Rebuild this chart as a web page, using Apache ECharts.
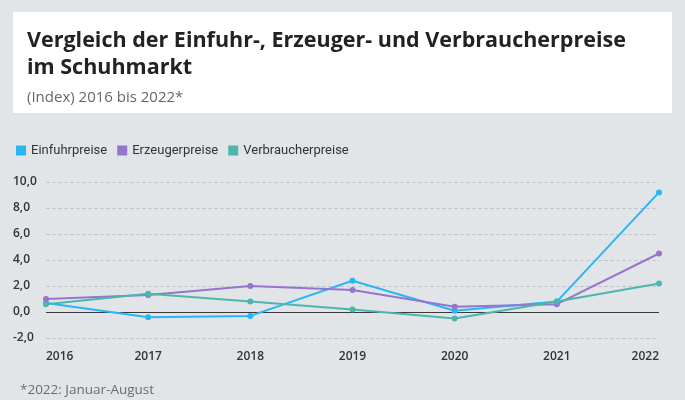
<!DOCTYPE html>
<html><head><meta charset="utf-8">
<script src="https://cdn.jsdelivr.net/npm/echarts@6/dist/echarts.min.js"></script>
<style>html,body{margin:0;padding:0;background:#e2e5e7;}#c{width:685px;height:400px;}</style>
</head><body><div id="c"></div>
<script>
var categories = ['2016','2017','2018','2019','2020','2021','2022'];
var einfuhr = [0.7, -0.4, -0.3, 2.4, 0.1, 0.8, 9.2];
var erzeuger = [1.0, 1.3, 2.0, 1.7, 0.4, 0.6, 4.5];
var verbraucher = [0.6, 1.4, 0.8, 0.2, -0.5, 0.8, 2.2];
var yTicks = [-2, 0, 2, 4, 6, 8, 10];
var names = ['Einfuhrpreise','Erzeugerpreise','Verbraucherpreise'];
var colors = ['#29b6f6','#9575cd','#4db6ac'];

var chart = echarts.init(document.getElementById('c'));
function mk(i, data){
  var s = {name:names[i], type:'line', data:data, symbol:'circle', symbolSize:6,
    lineStyle:{width:2,color:colors[i]}, itemStyle:{color:colors[i]}, z:3};
  if(i===0){ s.markLine={silent:true,symbol:'none',label:{show:false},
    lineStyle:{color:'#3a3a3a',width:1.2,type:'solid'},data:[{yAxis:0}],z:1}; }
  return s;
}
chart.setOption({
  backgroundColor:'#e2e5e7',
  animation:false,
  color:colors,
  graphic:[{type:'rect',shape:{x:13,y:12,width:659,height:101},style:{fill:'#ffffff'},z:-1},
    {type:'text',left:20,top:383,style:{text:'*2022: Januar-August',fill:'#6b6b6b',font:'13.5px "Open Sans"'}}],
  title:{text:'Vergleich der Einfuhr-, Erzeuger- und Verbraucherpreise\nim Schuhmarkt',
    subtext:'(Index) 2016 bis 2022*', left:22, top:22, itemGap:9,
    textStyle:{fontFamily:'Open Sans',fontWeight:'bold',fontSize:21.5,lineHeight:27,color:'#222'},
    subtextStyle:{fontFamily:'Open Sans',fontSize:15,color:'#666'}},
  legend:{left:11,top:139,itemWidth:10,itemHeight:10,itemGap:10,icon:'rect',
    textStyle:{fontFamily:'Roboto',fontSize:13,color:'#333'},
    data:names.map(function(n){return {name:n,icon:'rect'};})},
  grid:{left:46,right:26,top:182,bottom:62},
  xAxis:{type:'category',data:categories,boundaryGap:false,
    axisLine:{show:false},axisTick:{show:false},
    axisLabel:{margin:13,fontFamily:'Open Sans',fontWeight:600,fontSize:12,color:'#333',alignMinLabel:'left',alignMaxLabel:'right'}},
  yAxis:{type:'value',min:yTicks[0],max:yTicks[yTicks.length-1],interval:2,
    axisLine:{show:false},axisTick:{show:false},
    splitLine:{lineStyle:{type:'dashed',color:'#c4c7c9',width:1}},
    axisLabel:{margin:33,align:'left',fontFamily:'Open Sans',fontWeight:600,fontSize:12,color:'#333',
      formatter:function(v){return v.toFixed(1).replace('.',',');}}},
  series:[mk(0,einfuhr),mk(1,erzeuger),mk(2,verbraucher)]
});
</script></body></html>
